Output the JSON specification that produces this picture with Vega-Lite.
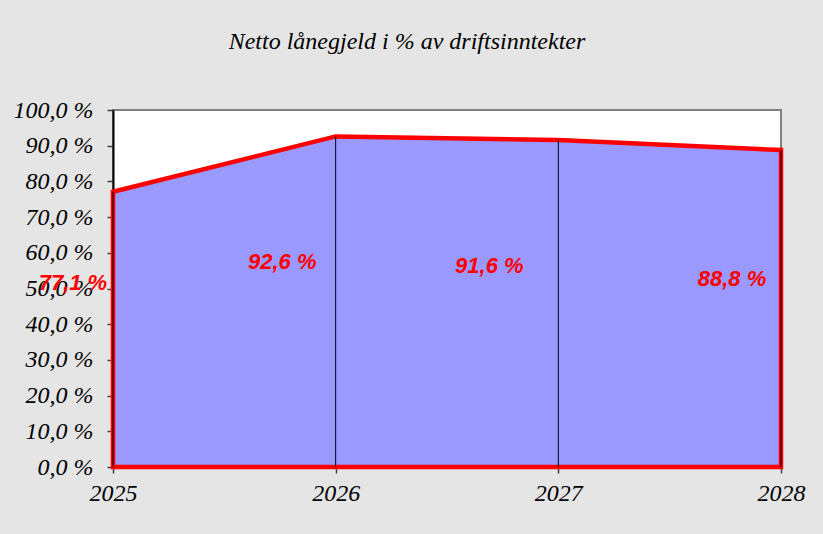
{
  "$schema": "https://vega.github.io/schema/vega-lite/v6.json",
  "width": 668,
  "height": 357,
  "autosize": {"type": "none"},
  "padding": {"left": 113, "top": 110, "right": 42, "bottom": 67},
  "background": "#e5e5e5",
  "title": {
    "text": "Netto lånegjeld i % av driftsinntekter",
    "font": "Liberation Serif",
    "fontStyle": "italic",
    "fontWeight": "normal",
    "fontSize": 24,
    "color": "#000000",
    "anchor": "middle",
    "dx": -40,
    "offset": 44
  },
  "config": {
    "view": {"fill": "#ffffff", "stroke": "#808080", "strokeWidth": 2},
    "axis": {
      "labelFont": "Liberation Serif",
      "labelFontStyle": "italic",
      "labelFontSize": 24,
      "labelColor": "#000000",
      "labelOverlap": false,
      "labelFlush": false,
      "labelBound": false,
      "domainColor": "#000000",
      "domainWidth": 2,
      "tickColor": "#404040",
      "tickWidth": 1.5,
      "grid": false,
      "title": null
    }
  },
  "data": {
    "values": [
      {"year": 2025, "value": 77.1, "label": "77,1 %"},
      {"year": 2026, "value": 92.6, "label": "92,6 %"},
      {"year": 2027, "value": 91.6, "label": "91,6 %"},
      {"year": 2028, "value": 88.8, "label": "88,8 %"}
    ]
  },
  "encoding": {
    "x": {
      "field": "year",
      "type": "quantitative",
      "scale": {"domain": [2025, 2028], "nice": false, "zero": false},
      "axis": {"values": [2025, 2026, 2027, 2028], "format": "d", "tickSize": 6, "labelPadding": 8, "labelBaseline": "top", "labelOverlap": false}
    },
    "y": {
      "field": "value",
      "type": "quantitative",
      "scale": {"domain": [0, 100], "nice": false},
      "axis": {
        "values": [0, 10, 20, 30, 40, 50, 60, 70, 80, 90, 100],
        "tickCount": 11,
        "labelExpr": "replace(format(datum.value, '.1f'), '.', ',') + ' %'",
        "labelOverlap": false,
        "labelSeparation": 0,
        "tickSize": 6,
        "labelPadding": 14
      }
    }
  },
  "layer": [
    {
      "mark": {"type": "area", "color": "#9999ff", "stroke": "#ff0000", "strokeWidth": 4.5, "strokeJoin": "miter"}
    },
    {
      "mark": {"type": "rule", "color": "#000000", "strokeWidth": 1},
      "encoding": {
        "y2": {"datum": 0}
      }
    },
    {
      "transform": [{"filter": "datum.year == 2025"}],
      "mark": {"type": "text", "font": "Liberation Sans", "fontStyle": "italic", "fontWeight": "bold", "fontSize": 22, "color": "#ff0000", "align": "center", "baseline": "middle"},
      "encoding": {"x": {"datum": 2024.82, "type": "quantitative"}, "y": {"datum": 51.5, "type": "quantitative"}, "text": {"field": "label", "type": "nominal"}}
    },
    {
      "transform": [{"filter": "datum.year == 2026"}],
      "mark": {"type": "text", "font": "Liberation Sans", "fontStyle": "italic", "fontWeight": "bold", "fontSize": 22, "color": "#ff0000", "align": "center", "baseline": "middle"},
      "encoding": {"x": {"datum": 2025.76, "type": "quantitative"}, "y": {"datum": 57.4, "type": "quantitative"}, "text": {"field": "label", "type": "nominal"}}
    },
    {
      "transform": [{"filter": "datum.year == 2027"}],
      "mark": {"type": "text", "font": "Liberation Sans", "fontStyle": "italic", "fontWeight": "bold", "fontSize": 22, "color": "#ff0000", "align": "center", "baseline": "middle"},
      "encoding": {"x": {"datum": 2026.69, "type": "quantitative"}, "y": {"datum": 56.3, "type": "quantitative"}, "text": {"field": "label", "type": "nominal"}}
    },
    {
      "transform": [{"filter": "datum.year == 2028"}],
      "mark": {"type": "text", "font": "Liberation Sans", "fontStyle": "italic", "fontWeight": "bold", "fontSize": 22, "color": "#ff0000", "align": "center", "baseline": "middle"},
      "encoding": {"x": {"datum": 2027.78, "type": "quantitative"}, "y": {"datum": 52.7, "type": "quantitative"}, "text": {"field": "label", "type": "nominal"}}
    }
  ]
}
